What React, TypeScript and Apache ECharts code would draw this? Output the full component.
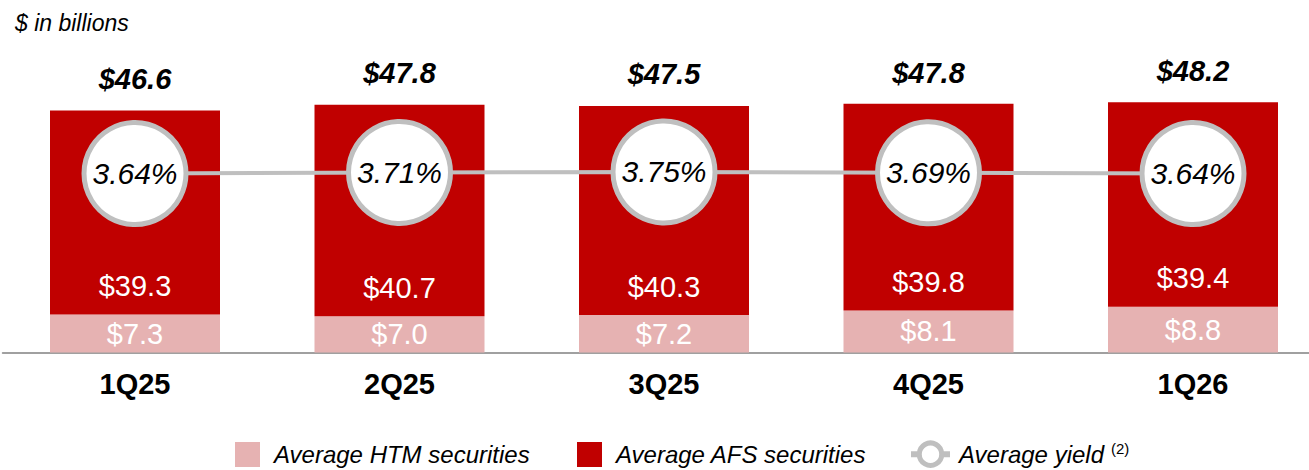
import React, { useEffect, useRef } from "react";
import * as echarts from "echarts";

const categories = ["1Q25", "2Q25", "3Q25", "4Q25", "1Q26"];
const htmValues = [7.3, 7.0, 7.2, 8.1, 8.8];
const afsValues = [39.3, 40.7, 40.3, 39.8, 39.4];
const totalValues = [46.6, 47.8, 47.5, 47.8, 48.2];
const yieldValues = [3.64, 3.71, 3.75, 3.69, 3.64];

const FONT = "'Liberation Sans', Arial, Helvetica, sans-serif";
const HTM_COLOR = "#E6B2B2";
const AFS_COLOR = "#C00000";
const YIELD_COLOR = "#BFBFBF";

export default function App() {
  const ref = useRef<HTMLDivElement>(null);
  useEffect(() => {
    if (!ref.current) return;
    const chart = echarts.init(ref.current, undefined, { renderer: "svg" });
    const legendText = {
      fontSize: 24,
      fontStyle: "italic",
      color: "#000",
      fontFamily: FONT,
      padding: [0, 0, 0, 9],
    };
    chart.setOption({
      animation: false,
      title: {
        text: "$ in billions",
        left: 10,
        top: 6,
        textStyle: { fontSize: 23, fontStyle: "italic", fontWeight: "normal", color: "#000", fontFamily: FONT },
      },
      legend: [
        {
          data: ["Average HTM securities"],
          left: 235,
          top: 442,
          padding: 0,
          itemWidth: 25,
          itemHeight: 25,
          icon: "rect",
          textStyle: legendText,
        },
        {
          data: ["Average AFS securities"],
          left: 577,
          top: 442,
          padding: 0,
          itemWidth: 25,
          itemHeight: 25,
          icon: "rect",
          textStyle: legendText,
        },
        {
          data: ["Average yield"],
          left: 908,
          top: 440.5,
          padding: 0,
          itemWidth: 39,
          itemHeight: 28,
          lineStyle: { width: 6, color: YIELD_COLOR },
          itemStyle: { color: "#fff", borderColor: YIELD_COLOR, borderWidth: 5 },
          formatter: (name: string) => `{n|${name}}{s|(2)}`,
          textStyle: {
            padding: 0,
            rich: {
              n: { fontSize: 24, fontStyle: "italic", color: "#000", fontFamily: FONT, padding: [0, 0, 0, 4] },
              s: { fontSize: 15, fontStyle: "normal", color: "#000", fontFamily: FONT, verticalAlign: "top", padding: [0, 0, 12, 7] },
            },
          },
        },
      ],
      grid: { left: 2.75, width: 1322.5, top: 41, height: 311.5 },
      xAxis: {
        type: "category",
        data: categories,
        axisLine: { lineStyle: { color: "#A0A0A0", width: 2 } },
        axisTick: { show: false },
        axisLabel: { fontSize: 29, fontWeight: "bold", color: "#000", fontFamily: FONT, margin: 17 },
      },
      yAxis: [
        { type: "value", min: 0, max: 60, show: false, splitLine: { show: false } },
        { type: "value", min: -8.29, max: 12.48, show: false, splitLine: { show: false } },
      ],
      series: [
        {
          name: "Average HTM securities",
          type: "bar",
          stack: "s",
          data: htmValues,
          barWidth: 170,
          barGap: "-100%",
          itemStyle: { color: HTM_COLOR },
          label: {
            show: true,
            position: "inside",
            formatter: (p: any) => "$" + Number(p.value).toFixed(1),
            fontSize: 29,
            color: "#fff",
            fontFamily: FONT,
          },
        },
        {
          name: "Average AFS securities",
          type: "bar",
          stack: "s",
          data: afsValues,
          barWidth: 170,
          barGap: "-100%",
          itemStyle: { color: AFS_COLOR },
          label: {
            show: true,
            position: "insideBottom",
            distance: 14,
            formatter: (p: any) => "$" + Number(p.value).toFixed(1),
            fontSize: 29,
            color: "#fff",
            fontFamily: FONT,
          },
        },
        {
          name: "Total",
          type: "bar",
          data: totalValues,
          barWidth: 170,
          barGap: "-100%",
          z: 1,
          silent: true,
          itemStyle: { color: "transparent" },
          label: {
            show: true,
            position: "top",
            distance: 17,
            formatter: (p: any) => "$" + Number(p.value).toFixed(1),
            fontSize: 29,
            fontWeight: "bold",
            fontStyle: "italic",
            color: "#000",
            opacity: 1,
            fontFamily: FONT,
          },
        },
        {
          name: "Average yield",
          type: "line",
          yAxisIndex: 1,
          data: yieldValues,
          symbol: "circle",
          symbolSize: 102,
          z: 10,
          lineStyle: { color: YIELD_COLOR, width: 4 },
          itemStyle: { color: "#fff", borderColor: YIELD_COLOR, borderWidth: 5 },
          label: {
            show: true,
            position: "inside",
            formatter: (p: any) => Number(p.value).toFixed(2) + "%",
            fontSize: 30,
            fontStyle: "italic",
            color: "#000",
            fontFamily: FONT,
          },
        },
      ],
    });
    return () => chart.dispose();
  }, []);
  return (
    <div style={{ position: "absolute", left: 0, top: 0, width: 1309, height: 470, overflow: "hidden" }}>
      <div ref={ref} style={{ width: 1326, height: 470 }} />
    </div>
  );
}
